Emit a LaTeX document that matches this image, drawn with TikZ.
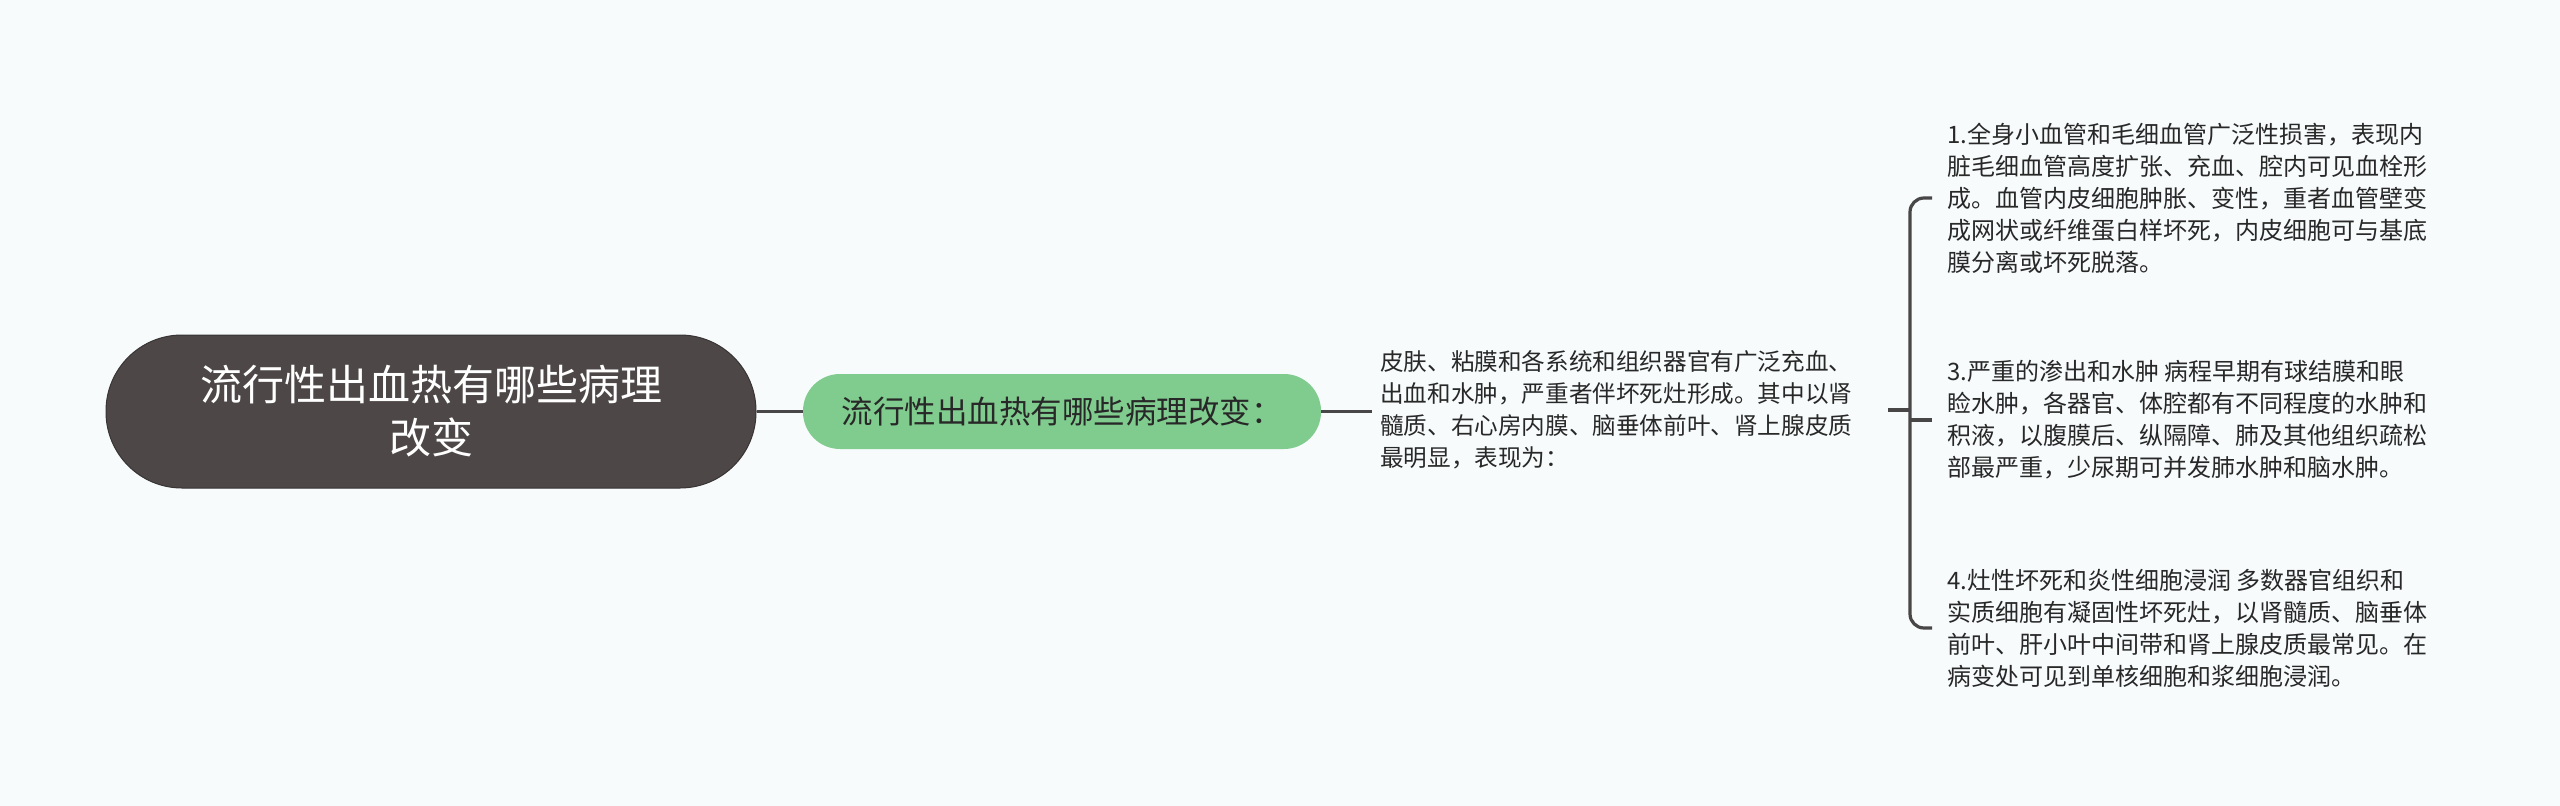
\documentclass[tikz,border=0pt]{standalone}
\usepackage{fontspec}
\setmainfont{Noto Sans CJK SC}
\definecolor{bg}{RGB}{247,251,252}
\definecolor{rootfill}{RGB}{77,72,71}
\definecolor{rootdraw}{RGB}{55,52,51}
\definecolor{greenfill}{RGB}{128,204,143}
\definecolor{linec}{RGB}{72,70,70}
\definecolor{txt}{RGB}{40,40,40}
\begin{document}
\begin{tikzpicture}[x=1pt,y=-1pt,
  conn/.style={draw=linec, line width=3.2pt},
  rootbox/.style={fill=rootfill, draw=rootdraw, line width=1pt, rounded corners=76pt,
    minimum width=650pt, minimum height=153pt, align=center, text=white,
    font=\fontsize{42pt}{53pt}\selectfont},
  greenbox/.style={fill=greenfill, rounded corners=37pt, minimum width=518pt,
    minimum height=75pt, align=center, text=txt, font=\fontsize{31.5pt}{36pt}\selectfont},
  midtext/.style={align=left, text width=500pt, inner xsep=8pt, inner ysep=0pt, text=txt,
    font=\fontsize{23.6pt}{32pt}\selectfont},
  itemtext/.style={align=left, inner xsep=15pt, inner ysep=0pt, text=txt,
    font=\fontsize{24pt}{32pt}\selectfont}]
\path[use as bounding box, fill=bg] (0,0) rectangle (2560,806);
\node[rootbox] (root) at (431,411.5) {流行性出血热有哪些病理\\改变};
\node[greenbox] (sub) at (1062,411.5) {流行性出血热有哪些病理改变：};
\node[midtext, anchor=west] (mid) at (1372,410) {皮肤、粘膜和各系统和组织器官有广泛充血、\\出血和水肿，严重者伴坏死灶形成。其中以肾\\髓质、右心房内膜、脑垂体前叶、肾上腺皮质\\最明显，表现为：};
\node[itemtext, anchor=west] (i1) at (1932,198) {1.全身小血管和毛细血管广泛性损害，表现内\\脏毛细血管高度扩张、充血、腔内可见血栓形\\成。血管内皮细胞肿胀、变性，重者血管壁变\\成网状或纤维蛋白样坏死，内皮细胞可与基底\\膜分离或坏死脱落。};
\node[itemtext, anchor=west] (i3) at (1932,420) {3.严重的渗出和水肿 病程早期有球结膜和眼\\睑水肿，各器官、体腔都有不同程度的水肿和\\积液，以腹膜后、纵隔障、肺及其他组织疏松\\部最严重，少尿期可并发肺水肿和脑水肿。};
\node[itemtext, anchor=west] (i4) at (1932,628) {4.灶性坏死和炎性细胞浸润 多数器官组织和\\实质细胞有凝固性坏死灶，以肾髓质、脑垂体\\前叶、肝小叶中间带和肾上腺皮质最常见。在\\病变处可见到单核细胞和浆细胞浸润。};
\coordinate (bx) at (1910,411);
\draw[conn] (root.east) -- (sub.west);
\draw[conn] (sub.east) -- (sub.east -| mid.west);
\draw[conn] (mid.east) -- (bx |- mid.east);
\draw[conn, rounded corners=14pt] (i1.west) -- (bx |- i1.west) -- (bx |- i4.west) -- (i4.west);
\draw[conn] (bx |- i3.west) -- (i3.west);
\end{tikzpicture}
\end{document}
